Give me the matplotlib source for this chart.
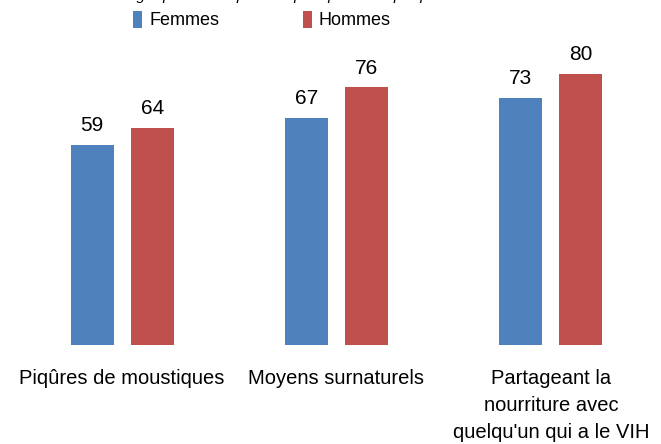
import matplotlib.pyplot as plt
import numpy as np

# categories and values
categories = ['Piqûres de moustiques', 'Moyens surnaturels',
              'Partageant la\nnourriture avec\nquelqu\'un qui a le VIH']
femmes = [59, 67, 73]
hommes = [64, 76, 80]
series_names = ['Femmes', 'Hommes']

plt.rcParams['font.family'] = ['Liberation Sans', 'DejaVu Sans']

fig = plt.figure(figsize=(6.61, 4.44), dpi=100)
ax = fig.add_axes([15 / 661, 1 - 345 / 444, 643 / 661, 305 / 444])

x = np.arange(len(categories))
w = 0.2
off = 0.14
b1 = ax.bar(x - off, femmes, w, color='#4F81BD', label=series_names[0])
b2 = ax.bar(x + off, hommes, w, color='#C0504D', label=series_names[1])
ax.bar_label(b1, padding=7, fontsize=15)
ax.bar_label(b2, padding=7, fontsize=15)

ax.set_xlim(-0.5, 2.5)
ax.set_ylim(0, 90)
ax.set_yticks([])
ax.set_xticks(x)
ax.set_xticklabels(categories, fontsize=14.5, linespacing=1.55, va='top')
ax.tick_params(axis='x', length=0, pad=17)
for s in ax.spines.values():
    s.set_visible(False)

# title is cut off at the top of the reference: only descenders show
fig.text(255 / 661, 1.0, "Pourcentage qui savent qu'on ne peut pas l'attraper par",
         fontsize=11, style='italic', ha='center', va='baseline')

fig.legend(handles=[b1, b2], loc='center', bbox_to_anchor=(262 / 661, 1 - 20 / 444),
           ncol=2, frameon=False, fontsize=13, handlelength=0.5, handleheight=1.1,
           handletextpad=0.4, columnspacing=4.6)

plt.savefig('out.png', dpi=100)
